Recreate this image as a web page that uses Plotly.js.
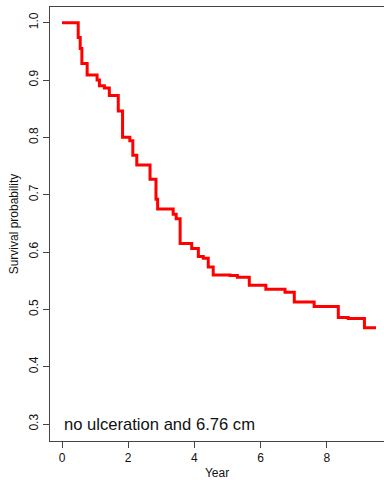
<!DOCTYPE html>
<html>
<head>
<meta charset="utf-8">
<script src="https://cdn.plot.ly/plotly-3.0.1.min.js"></script>
<style>html,body{margin:0;padding:0;background:#fff;overflow:hidden;}#chart{width:384px;height:480px;}</style>
</head>
<body>
<div id="chart"></div>
<script>
// Kaplan-Meier step curve: event times (years) and survival probability after each step
var years = [0, 0.49, 0.55, 0.60, 0.76, 1.06, 1.13, 1.28, 1.43, 1.70, 1.83, 2.05, 2.14, 2.26,
             2.66, 2.84, 2.89, 3.36, 3.45, 3.57, 3.92, 4.12, 4.27, 4.42, 4.57, 5.08, 5.30,
             5.66, 6.16, 6.74, 7.02, 7.62, 8.35, 8.65, 9.14, 9.49];
var survival = [1.000, 0.974, 0.955, 0.929, 0.909, 0.900, 0.890, 0.886, 0.873, 0.846, 0.800, 0.794, 0.769, 0.752,
                0.727, 0.692, 0.675, 0.666, 0.658, 0.615, 0.606, 0.592, 0.589, 0.574, 0.560, 0.559, 0.556,
                0.542, 0.535, 0.530, 0.513, 0.505, 0.486, 0.484, 0.468, 0.468];
var xTicks = [0, 2, 4, 6, 8];
var yTicks = [0.3, 0.4, 0.5, 0.6, 0.7, 0.8, 0.9, 1.0];
var groupLabel = 'no ulceration and 6.76 cm';
var xLabel = 'Year';
var yLabel = 'Survival probability';

var font = 'Liberation Sans, Arial, sans-serif';
var trace = {
  x: years, y: survival, type: 'scatter', mode: 'lines',
  line: {shape: 'hv', color: '#ff0000', width: 3},
  hoverinfo: 'skip'
};
var layout = {
  width: 384, height: 480,
  margin: {l: 50, r: 0, t: 7, b: 39, pad: 0},
  paper_bgcolor: '#fff', plot_bgcolor: '#fff',
  showlegend: false,
  font: {family: font, size: 12, color: '#111'},
  xaxis: {
    range: [-0.363, 9.731], tickmode: 'array', tickvals: xTicks,
    ticks: 'outside', ticklen: 6, tickcolor: '#444', tickwidth: 1,
    showline: true, linecolor: '#444', linewidth: 1, mirror: true,
    showgrid: false, zeroline: false,
    tickfont: {family: font, size: 12, color: '#111'},
    title: {text: xLabel, font: {family: font, size: 12, color: '#111'}, standoff: 6}
  },
  yaxis: {
    range: [0.2704, 1.0274], tickmode: 'array', tickvals: yTicks, tickformat: '.1f',
    ticks: 'outside', ticklen: 6, tickcolor: '#444', tickwidth: 1, tickangle: -90,
    showline: true, linecolor: '#444', linewidth: 1, mirror: false,
    showgrid: false, zeroline: false,
    tickfont: {family: font, size: 12, color: '#111'},
    title: {text: yLabel, font: {family: font, size: 12, color: '#111'}, standoff: 6}
  },
  annotations: [{
    text: groupLabel, xref: 'x', yref: 'y', x: 0, y: 0.3,
    xanchor: 'left', yanchor: 'middle', showarrow: false,
    font: {family: font, size: 16.6, color: '#111'}
  }]
};
Plotly.newPlot('chart', [trace], layout, {displayModeBar: false, staticPlot: true});
</script>
</body>
</html>
